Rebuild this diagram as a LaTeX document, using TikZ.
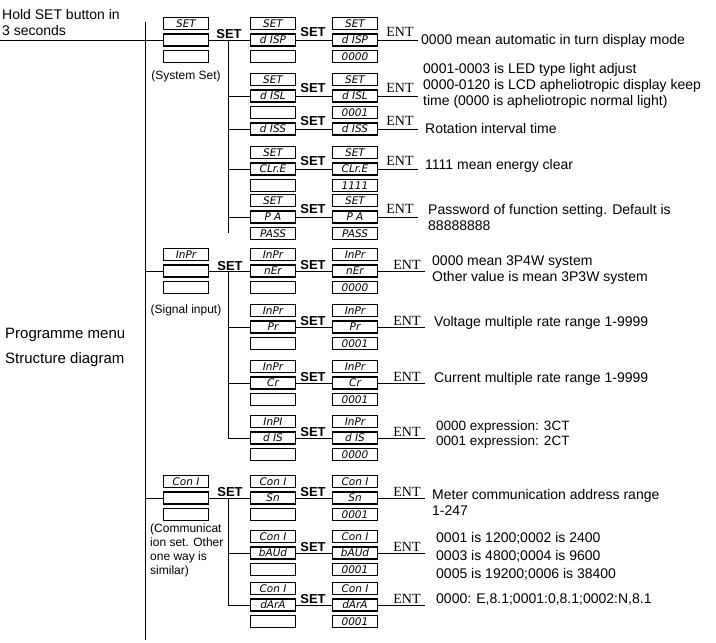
\documentclass[tikz,border=0pt]{standalone}
\usepackage{fontspec}
\setmainfont{Liberation Sans}
\newfontfamily\entfont{Liberation Serif}
\newfontfamily\segfont{DejaVu Sans}
\usetikzlibrary{positioning}

\tikzset{
  seg/.style={draw, line width=1.4pt, minimum width=45pt, minimum height=12pt, inner sep=0pt,
    font=\segfont\itshape\fontsize{10.5}{10}\selectfont},
  setlbl/.style={font=\bfseries\fontsize{13}{13}\selectfont, inner sep=0pt},
  entlbl/.style={font=\entfont\fontsize{14}{14}\selectfont, inner sep=0pt},
  note/.style={font=\fontsize{14}{16}\selectfont, anchor=west, align=left, inner sep=0pt},
  wire/.style={line width=0.9pt}
}
% three stacked display windows
\newcommand\panel[6]{%
  \node[seg] (#1-m) at (#2,#3) {#5};
  \node[seg, above=3pt of #1-m] (#1-t) {#4};
  \node[seg, below=3pt of #1-m] (#1-b) {#6};
}

\begin{document}
\begin{tikzpicture}[x=1pt,y=-1pt]
\useasboundingbox (0,0) rectangle (716,643);

% main line
\coordinate (top) at (145,22);
\coordinate (bot) at (145,640);
\draw[wire] (top) -- (bot);
\coordinate (hold) at (0,40);
\node[note, anchor=south west] at (2,36) {Hold SET button in\\3 seconds};
\node[note, font=\fontsize{15}{25}\selectfont] at (5,347) {Programme menu\\Structure diagram};

%% system set
\panel{sys}{186}{40}{SET}{}{}
\node[font=\fontsize{12}{12}\selectfont] at (186,76) {(System Set)};
\draw[wire] (hold) -- (sys-m.west);
\node[setlbl] at (229,34) {SET};
\coordinate (sb) at (228,40);
\coordinate (se) at (228,233);
\draw[wire] (sb) -- (se);
\draw[wire] (sys-m.east) -- (sb);

\panel{s1a}{273}{40}{SET}{d ISP}{}
\panel{s1b}{355}{40}{SET}{d ISP}{0000}
\panel{s2a}{273}{96}{SET}{d ISL}{}
\panel{s2b}{355}{96}{SET}{d ISL}{0001}
\node[seg] (s3a-m) at (273,129) {d ISS};
\node[seg] (s3b-m) at (355,129) {d ISS};
\panel{s4a}{273}{169}{SET}{CLr.E}{}
\panel{s4b}{355}{169}{SET}{CLr.E}{1111}
\panel{s5a}{273}{217}{SET}{P A}{PASS}
\panel{s5b}{355}{217}{SET}{P A}{PASS}

\foreach \r/\y in {1/40,2/96,3/129,4/169,5/217}{
  \coordinate (j\r) at (228,\y);
  \coordinate (e\r) at (418,\y);
  \draw[wire] (j\r) -- (s\r a-m.west);
  \draw[wire] (s\r a-m.east) -- (s\r b-m.west);
  \draw[wire] (s\r b-m.east) -- (e\r);
  \node[setlbl] at (313,\y-8) {SET};
  \node[entlbl] at (400,\y-8) {ENT};
}
\node[note] at (421,41) {0000 mean automatic in turn display mode};
\node[note] at (423,86) {0001-0003 is LED type light adjust\\0000-0120 is LCD apheliotropic display keep\\time (0000 is apheliotropic normal light)};
\node[note] at (425,128) {Rotation interval time};
\node[note] at (425,166) {1111 mean energy clear};
\node[note] at (428,217) {Password of function setting. Default is\\88888888};

%% signal input
\panel{inp}{186}{271}{InPr}{}{}
\node[font=\fontsize{12}{12}\selectfont] at (186,310) {(Signal input)};
\coordinate (ib) at (145,271);
\draw[wire] (ib) -- (inp-m.west);
\node[setlbl] at (230,266) {SET};
\coordinate (ijb) at (228,271);
\coordinate (ije) at (228,438);
\draw[wire] (ijb) -- (ije);
\draw[wire] (inp-m.east) -- (ijb);
\panel{i1a}{273}{271}{InPr}{nEr}{}
\panel{i1b}{355}{271}{InPr}{nEr}{0000}
\panel{i2a}{273}{327}{InPr}{Pr}{}
\panel{i2b}{355}{327}{InPr}{Pr}{0001}
\panel{i3a}{273}{383}{InPr}{Cr}{}
\panel{i3b}{355}{383}{InPr}{Cr}{0001}
\panel{i4a}{273}{438}{InPI}{d IS}{}
\panel{i4b}{355}{438}{InPr}{d IS}{0000}
\foreach \r/\y in {1/271,2/327,3/383,4/438}{
  \coordinate (ij\r) at (228,\y);
  \coordinate (ie\r) at (425,\y);
  \draw[wire] (ij\r) -- (i\r a-m.west);
  \draw[wire] (i\r a-m.east) -- (i\r b-m.west);
  \draw[wire] (i\r b-m.east) -- (ie\r);
  \node[setlbl] at (313,\y-6) {SET};
  \node[entlbl] at (407,\y-6) {ENT};
}
\node[note] at (432,270) {0000 mean 3P4W system\\Other value is mean 3P3W system};
\node[note] at (434,323) {Voltage multiple rate range 1-9999};
\node[note] at (434,379) {Current multiple rate range 1-9999};
\node[note, font=\fontsize{13.5}{15}\selectfont] at (436,435) {0000 expression: 3CT\\0001 expression: 2CT};

%% communication
\panel{com}{186}{498}{Con I}{}{}
\node[note, font=\fontsize{12}{14}\selectfont, anchor=north west] at (150,524) {(Communicat\\ion set. Other\\one way is\\similar)};
\coordinate (cb) at (145,498);
\draw[wire] (cb) -- (com-m.west);
\node[setlbl] at (230,492) {SET};
\coordinate (cjb) at (228,498);
\coordinate (cje) at (228,605);
\draw[wire] (cjb) -- (cje);
\draw[wire] (com-m.east) -- (cjb);
\panel{c1a}{273}{498}{Con I}{Sn}{}
\panel{c1b}{355}{498}{Con I}{Sn}{0001}
\panel{c2a}{273}{553}{Con I}{bAUd}{}
\panel{c2b}{355}{553}{Con I}{bAUd}{0001}
\panel{c3a}{273}{605}{Con I}{dArA}{}
\panel{c3b}{355}{605}{Con I}{dArA}{0001}
\foreach \r/\y in {1/498,2/553,3/605}{
  \coordinate (cj\r) at (228,\y);
  \coordinate (ce\r) at (425,\y);
  \draw[wire] (cj\r) -- (c\r a-m.west);
  \draw[wire] (c\r a-m.east) -- (c\r b-m.west);
  \draw[wire] (c\r b-m.east) -- (ce\r);
  \node[setlbl] at (313,\y-6) {SET};
  \node[entlbl] at (407,\y-6) {ENT};
}
\node[note] at (432,502) {Meter communication address range\\1-247};
\node[note, font=\fontsize{14}{18}\selectfont] at (436,556) {0001 is 1200;0002 is 2400\\0003 is 4800;0004 is 9600\\0005 is 19200;0006 is 38400};
\node[note] at (436,600) {0000: E,8.1;0001:0,8.1;0002:N,8.1};
\end{tikzpicture}
\end{document}
